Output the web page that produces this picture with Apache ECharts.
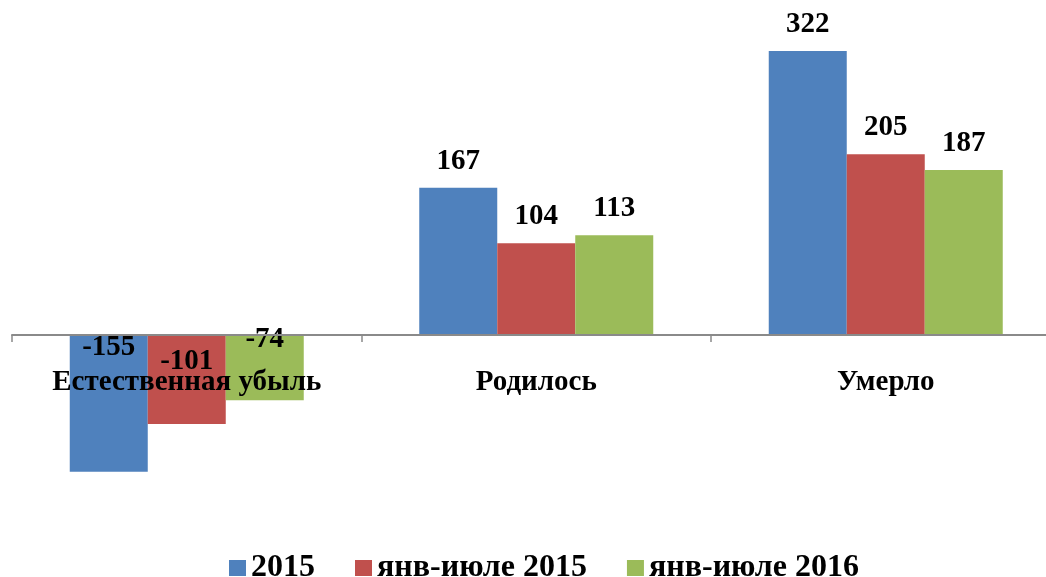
<!DOCTYPE html>
<html>
<head>
<meta charset="utf-8">
<script src="https://cdn.jsdelivr.net/npm/echarts@6/dist/echarts.min.js"></script>
<style>
  html, body { margin: 0; padding: 0; background: #fff; }
  #chart { width: 1046px; height: 577px; }
</style>
</head>
<body>
<div id="chart"></div>
<script>
const categories = ['Естественная убыль', 'Родилось', 'Умерло'];
const seriesNames = ['2015', 'янв-июле 2015', 'янв-июле 2016'];
const values2015 = [-155, 167, 322];
const valuesJanJul2015 = [-101, 104, 205];
const valuesJanJul2016 = [-74, 113, 187];

const colors = ['#4F81BD', '#C0504D', '#9BBB59'];
// shift for labels of negative bars (Excel put them near the axis)
const negLabelShift = [-56, -18, -28];
const font = '"Liberation Serif", "Times New Roman", serif';

const chart = echarts.init(document.getElementById('chart'));

function makeSeries(name, vals, idx) {
  return {
    name: name,
    type: 'bar',
    barWidth: 78,
    barGap: '0%',
    itemStyle: { color: colors[idx] },
    label: {
      show: true,
      position: 'top',
      distance: 12,
      color: '#000',
      fontFamily: font,
      fontWeight: 'bold',
      fontSize: 29
    },
    data: vals.map(v => v < 0
      ? { value: v, label: { position: 'inside', offset: [0, negLabelShift[idx]] } }
      : v)
  };
}

chart.setOption({
  animation: false,
  grid: { left: 12, width: 1048.5, top: 26.3, height: 485.1, outerBoundsMode: 'none' },
  legend: {
    data: seriesNames,
    top: 547,
    left: 224,
    icon: 'rect',
    itemWidth: 17,
    itemHeight: 16,
    itemGap: 40,
    textStyle: { fontFamily: font, fontWeight: 'bold', fontSize: 32, color: '#000' }
  },
  xAxis: {
    type: 'category',
    data: categories,
    offset: -176.4,
    axisLine: { onZero: false, lineStyle: { color: '#8a8a8a', width: 2 } },
    axisTick: { show: true, length: 7, lineStyle: { color: '#8a8a8a', width: 1.5 } },
    axisLabel: {
      interval: 0,
      margin: 33,
      color: '#000',
      fontFamily: font,
      fontWeight: 'bold',
      fontSize: 29
    },
    z: 10
  },
  yAxis: {
    type: 'value',
    min: -200,
    max: 350,
    show: false,
    splitLine: { show: false }
  },
  series: [
    makeSeries(seriesNames[0], values2015, 0),
    makeSeries(seriesNames[1], valuesJanJul2015, 1),
    makeSeries(seriesNames[2], valuesJanJul2016, 2)
  ]
});
</script>
</body>
</html>
